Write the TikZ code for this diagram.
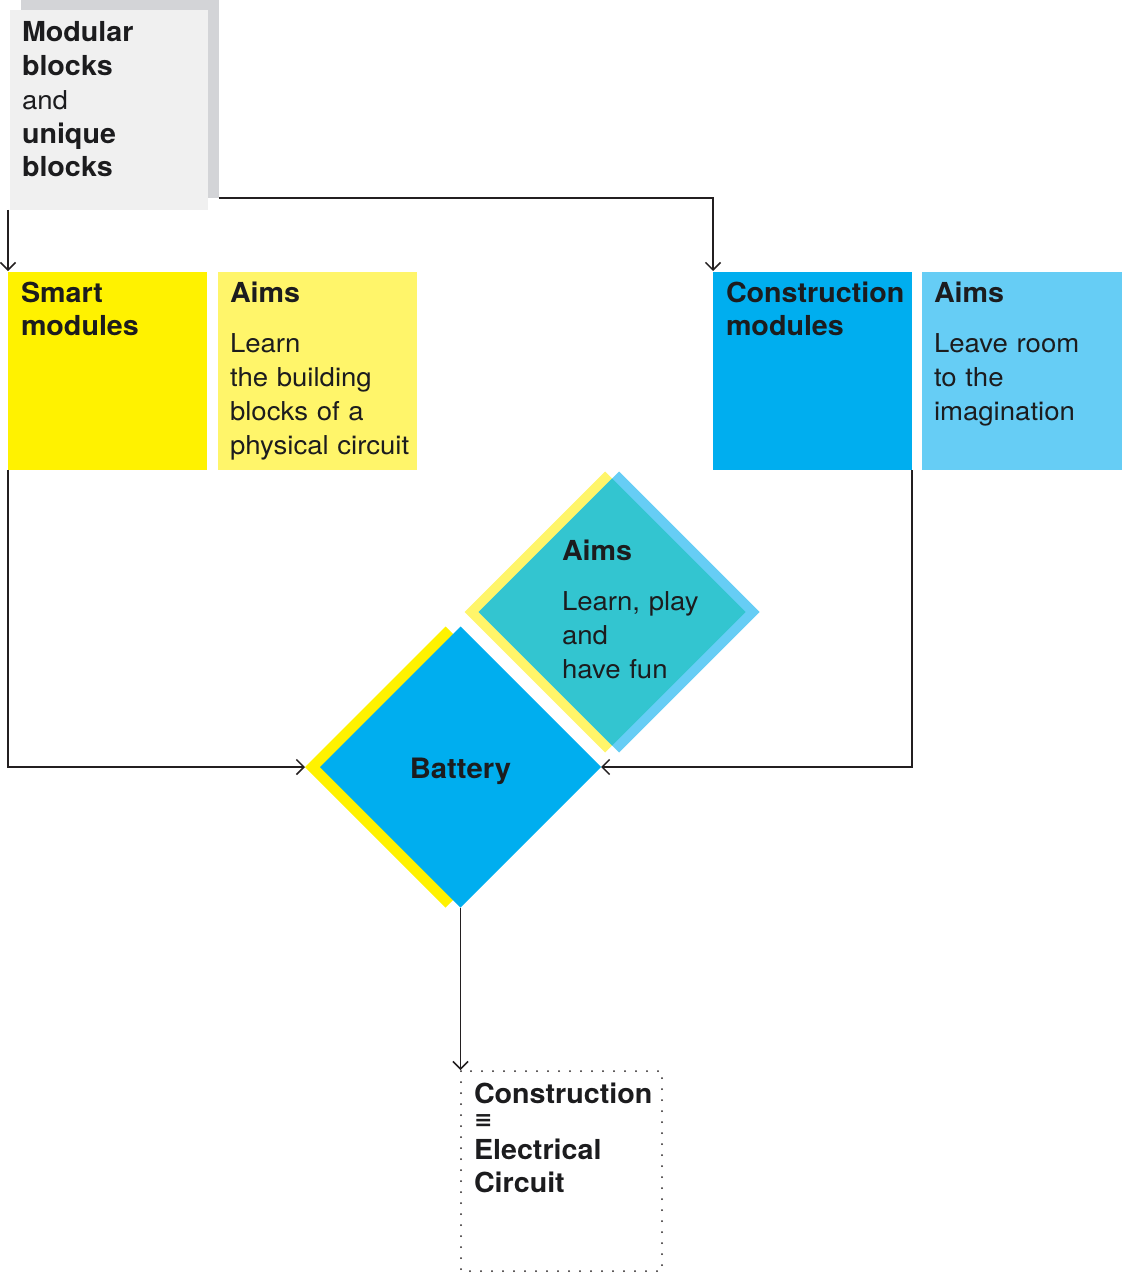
\documentclass[tikz,border=0pt]{standalone}
\usepackage{fontspec}
\setmainfont{TeX Gyre Heros}[UprightFeatures={FakeStretch=1.06},BoldFeatures={Scale=1.06,FakeStretch=1.04}]
\newfontfamily\symfont{DejaVu Sans}
\usetikzlibrary{shapes.geometric,arrows.meta}
\definecolor{backgray}{HTML}{D3D4D7}
\definecolor{frontgray}{HTML}{F0F0F0}
\definecolor{yel}{HTML}{FFF200}
\definecolor{lyel}{HTML}{FFF56A}
\definecolor{blu}{HTML}{00AEEF}
\definecolor{lblu}{HTML}{66CDF5}
\definecolor{tealmix}{HTML}{33C5D0}
\definecolor{ink}{HTML}{1C1C1E}
\definecolor{linec}{HTML}{231F20}
\begin{document}
\begin{tikzpicture}[x=1pt,y=-1pt,
  panel/.style={anchor=north west, inner sep=0pt, outer sep=0pt, minimum width=199pt, minimum height=198pt},
  dia/.style={diamond, inner sep=0pt, outer sep=0pt, minimum width=281pt, minimum height=281pt},
  txt/.style={anchor=base west, inner sep=0pt, outer sep=0pt, align=left, text width=195pt,
    font=\fontsize{26}{33.75}\selectfont, text=ink},
  conn/.style={draw=linec, line width=1.5pt, -{Straight Barb[length=7.5pt,width=15pt]}},
  dots/.style={draw=linec, line width=2pt, line cap=round, dash pattern=on 0pt off 11pt}
]
\useasboundingbox (0,0) rectangle (1122,1273);

% top-left stacked block
\node[panel, fill=backgray, minimum width=198pt, minimum height=210pt] (back) at (21,-12) {};
\node[panel, fill=frontgray, minimum width=198pt, minimum height=200pt] (front) at (10,10) {};
\node[txt] (fronttxt) at (22,42) {\textbf{Modular}\\\textbf{blocks}\\and\\\textbf{unique}\\\textbf{blocks}};

% panels
\node[panel, fill=yel] (smart) at (8,272) {};
\node[txt] (smarttxt) at (21,302) {\textbf{Smart}\\\textbf{modules}};
\node[panel, fill=lyel] (aimsY) at (218,272) {};
\node[txt] (aimsYtxt) at (230,302) {\textbf{Aims}\\[17pt]Learn\\the building\\blocks of a\\physical circuit};
\node[panel, fill=blu] (cons) at (713,272) {};
\node[txt] (constxt) at (726,302) {\textbf{Construction}\\\textbf{modules}};
\node[panel, fill=lblu, minimum width=200pt] (aimsB) at (922,272) {};
\node[txt] (aimsBtxt) at (934,302) {\textbf{Aims}\\[17pt]Leave room\\to the\\imagination};

% aims diamond
\node[dia, fill=lyel] (aimDY) at (605,612) {};
\node[dia, fill=lblu] (aimDB) at (619,612) {};
\node[dia, fill=tealmix, minimum width=267pt, minimum height=267pt] (aimDT) at (612,612) {};
\node[txt] (aimDtxt) at (562,560) {\textbf{Aims}\\[17pt]Learn, play\\and\\have fun};

% battery
\node[dia, fill=yel] (batY) at (445.5,767) {};
\node[dia, fill=blu] (bat) at (460.5,767) {};
\node[inner sep=0pt, anchor=base, font=\bfseries\fontsize{26.5}{30}\selectfont, text=ink] (battxt) at (460.5,778) {Battery};

% result box
\node[panel, minimum width=201pt, minimum height=200pt] (circ) at (461,1071) {};
\draw[dots] (circ.north west) rectangle (circ.south east);
\node[txt] (circtxt) at (474,1103) {\textbf{Construction}\\[-9pt]{\symfont\bfseries\fontsize{22}{22}\selectfont ≡}\\[-2.4pt]\textbf{Electrical}\\\textbf{Circuit}};

% connectors
\draw[conn, shorten >=1pt] (smart.north west |- front.south) -- (smart.north west);
\draw[conn, shorten >=1pt] (back.south east) -- (cons.north west |- back.south east) -- (cons.north west);
\draw[conn] (smart.south west) -- (smart.south west |- bat.west) -- (batY.west);
\draw[conn] (cons.south east) -- (cons.south east |- bat.east) -- (bat.east);
\draw[conn, shorten >=1pt] (bat.south) -- (bat.south |- circ.north);
\end{tikzpicture}
\end{document}
